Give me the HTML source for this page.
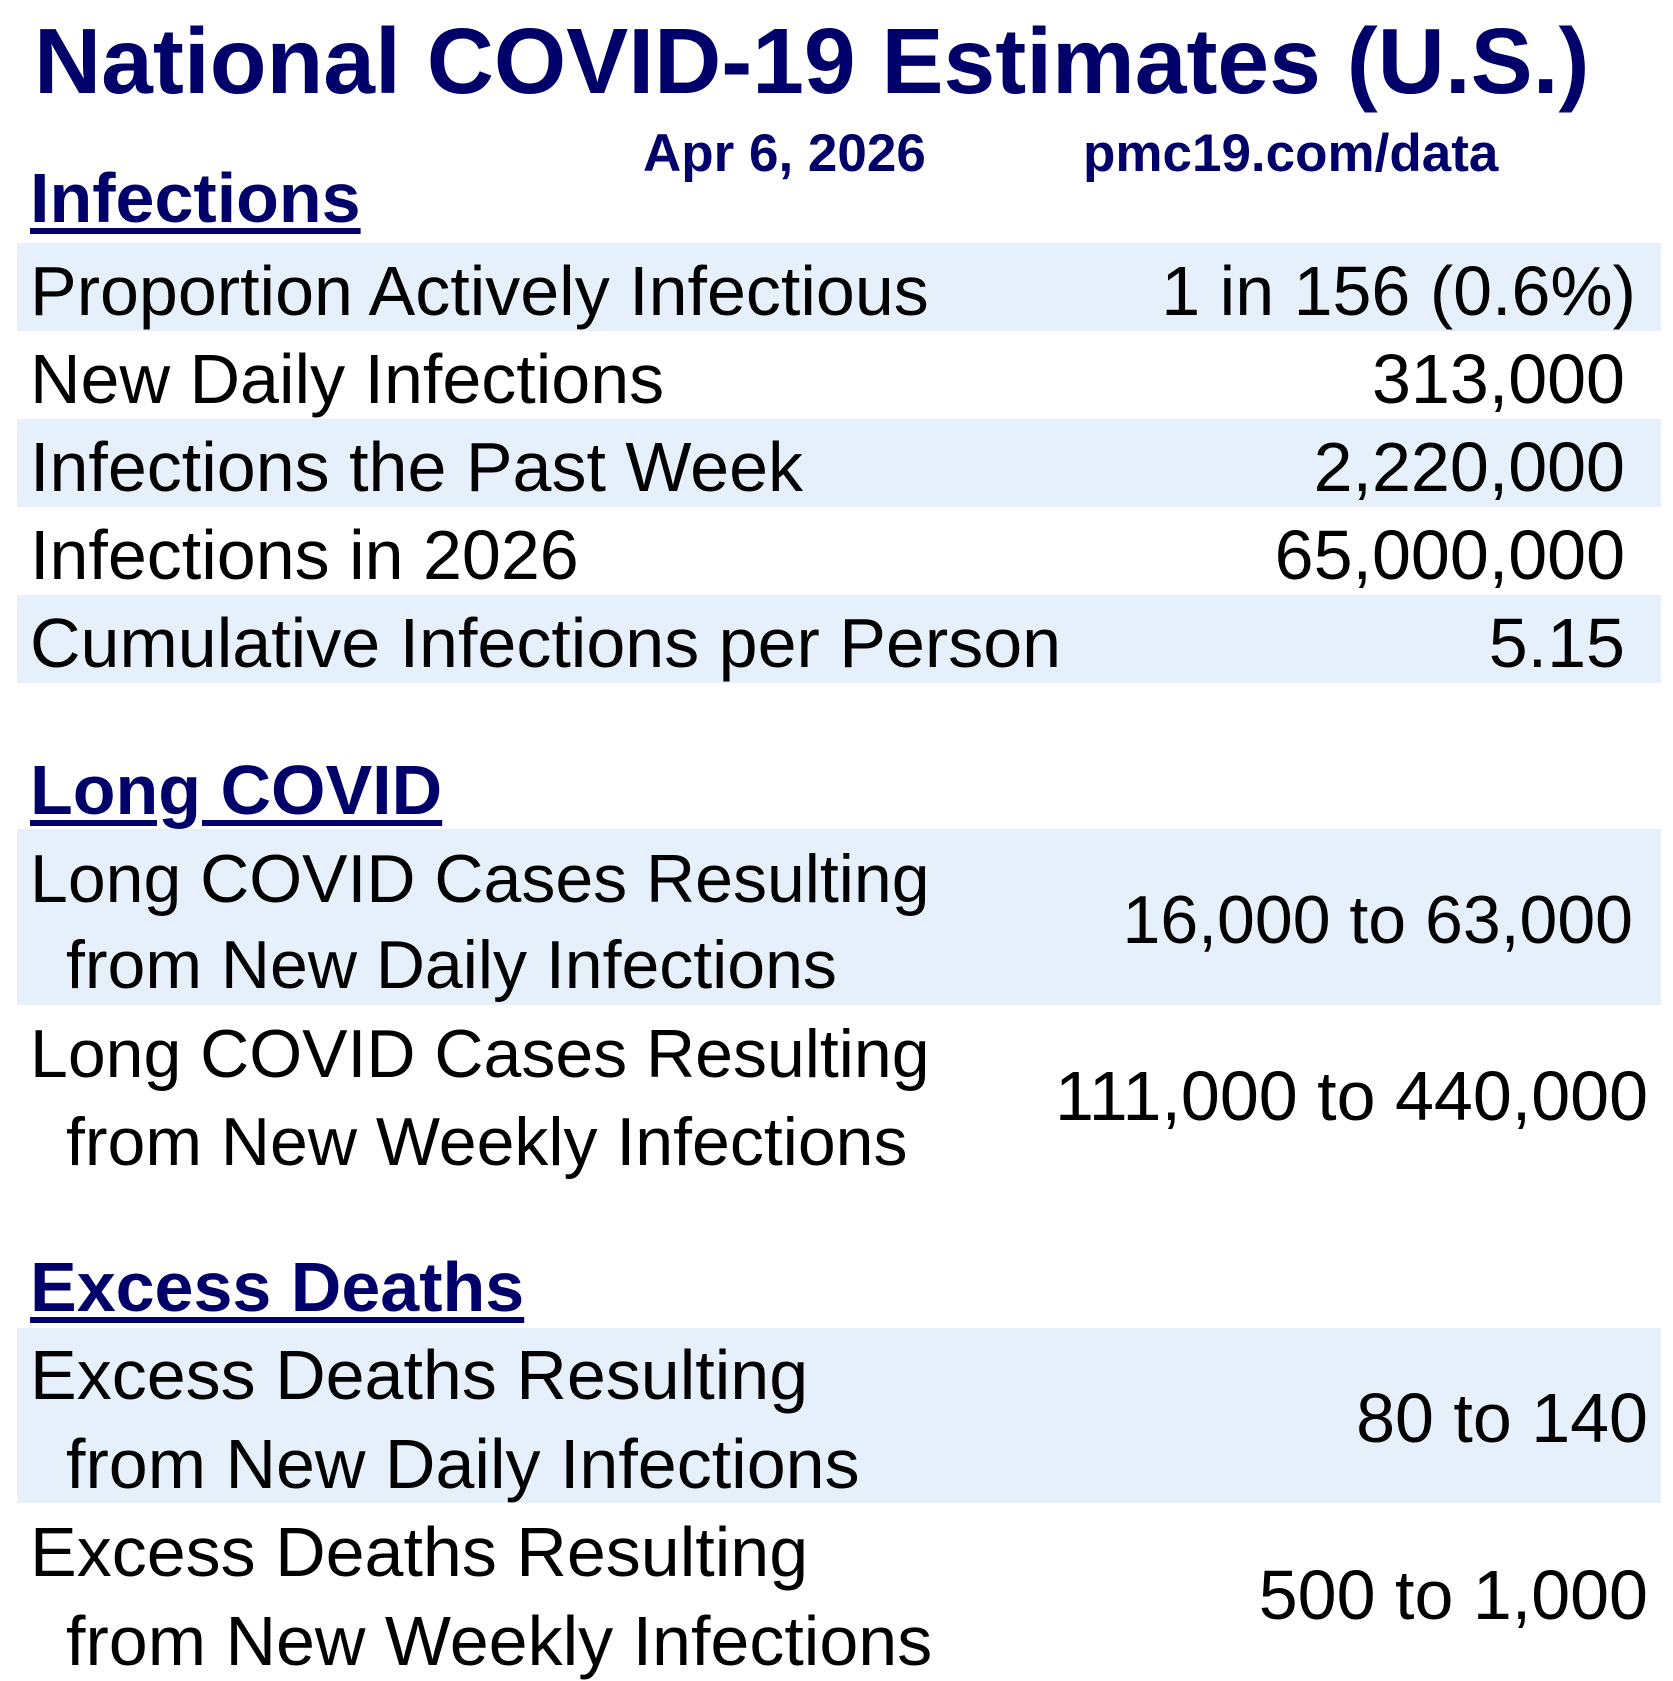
<!DOCTYPE html>
<html><head><meta charset="utf-8"><style>
html,body{margin:0;padding:0;background:#fff;}
body{width:1673px;height:1681px;position:relative;overflow:hidden;font-family:"Liberation Sans",Arial,sans-serif;}
.t{position:absolute;line-height:1;white-space:nowrap;color:#000;font-size:70px;}
.s{font-size:68px;}
.n{color:#00006b;font-weight:bold;}
.h{font-size:70px;text-decoration:underline;text-decoration-thickness:6px;text-underline-offset:6px;}
.band{position:absolute;left:17px;width:1644px;background:#e6f0fa;}
</style></head><body>
<div class="band" style="top:243px;height:88px"></div>
<div class="band" style="top:419px;height:88px"></div>
<div class="band" style="top:595px;height:88px"></div>
<div class="band" style="top:829px;height:176px"></div>
<div class="band" style="top:1328px;height:175px"></div>

<div class="t n" style="left:34px;top:15px;font-size:93px">National COVID-19 Estimates (U.S.)</div>
<div class="t n" style="left:643px;top:127px;font-size:53px">Apr 6, 2026</div>
<div class="t n" style="left:1083px;top:127px;font-size:53px">pmc19.com/data</div>

<div class="t n h" style="left:30px;top:163px">Infections</div>
<div class="t" style="left:30px;top:256px">Proportion Actively Infectious</div>
<div class="t" style="right:37px;top:256px">1 in 156 (0.6%)</div>
<div class="t" style="left:30px;top:344px">New Daily Infections</div>
<div class="t" style="right:48px;top:344px">313,000</div>
<div class="t" style="left:30px;top:432px">Infections the Past Week</div>
<div class="t" style="right:48px;top:432px">2,220,000</div>
<div class="t" style="left:30px;top:520px">Infections in 2026</div>
<div class="t" style="right:48px;top:520px">65,000,000</div>
<div class="t" style="left:30px;top:608px">Cumulative Infections per Person</div>
<div class="t" style="right:48px;top:608px">5.15</div>

<div class="t n h" style="left:30px;top:755px">Long COVID</div>
<div class="t s" style="left:30px;top:845px">Long COVID Cases Resulting</div>
<div class="t s" style="left:66px;top:931px">from New Daily Infections</div>
<div class="t s" style="right:40px;top:886px">16,000 to 63,000</div>
<div class="t s" style="left:30px;top:1020px">Long COVID Cases Resulting</div>
<div class="t s" style="left:66px;top:1108px">from New Weekly Infections</div>
<div class="t" style="right:25px;top:1061px">111,000 to 440,000</div>

<div class="t n h" style="left:30px;top:1252px">Excess Deaths</div>
<div class="t" style="left:30px;top:1340px">Excess Deaths Resulting</div>
<div class="t" style="left:66px;top:1429px">from New Daily Infections</div>
<div class="t" style="right:25px;top:1383px">80 to 140</div>
<div class="t" style="left:30px;top:1517px">Excess Deaths Resulting</div>
<div class="t" style="left:66px;top:1606px">from New Weekly Infections</div>
<div class="t" style="right:25px;top:1560px">500 to 1,000</div>
</body></html>
